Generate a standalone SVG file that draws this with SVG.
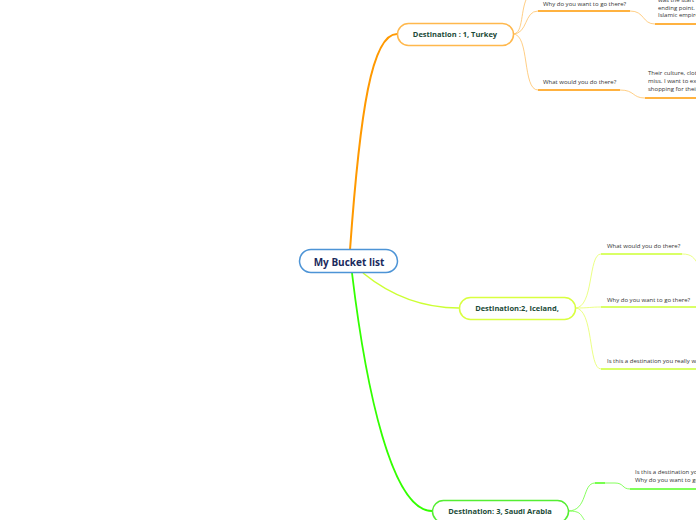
<svg xmlns="http://www.w3.org/2000/svg" width="696" height="520" viewBox="0 0 696 520">
<style>
.node{fill:#fff;stroke-width:1.5}
.nt{font-family:"Open Sans","Noto Sans",sans-serif;font-weight:bold;fill:#1b4a38;text-anchor:middle}
.st{font-family:"Open Sans","Noto Sans",sans-serif;font-size:6px;fill:#333}
.c{fill:none}
</style>
<rect width="696" height="520" fill="#fff"/>
<g id="connectors">
<path class="c" d="M350,250 C360,110 372,34 397,34" stroke="#ff9900" stroke-width="2"/>
<path class="c" d="M363,273 C390,295 420,308 459,308" stroke="#ccff33" stroke-width="1.6"/>
<path class="c" d="M352,273 C366,390 392,511 432,511" stroke="#33ff00" stroke-width="1.8"/>
<!-- Turkey subs -->
<g stroke="#ffc266" stroke-width="0.8">
<path class="c" d="M513,34 C524,34 520,8 528,-4"/>
<path class="c" d="M513,34 C528,34 524,11 538,11"/>
<path class="c" d="M513,34 C530,34 522,90 538,90"/>
<path class="c" d="M630,11 C645,11 642,24 655,24"/>
<path class="c" d="M620,90 C635,90 632,98 645,98"/>
</g>
<g stroke="#ff9900" stroke-width="1.6">
<path d="M538,11 H630"/>
<path d="M655,24 H696"/>
<path d="M538,90 H620"/>
<path d="M645,98 H696"/>
</g>
<!-- Iceland subs -->
<g stroke="#e6ff66" stroke-width="0.8">
<path class="c" d="M575,308 C594,308 588,254 601,254"/>
<path class="c" d="M575,308 C590,308 590,307 601,307"/>
<path class="c" d="M575,308 C594,308 588,369 601,369"/>
<path class="c" d="M682,254 C692,254 694,258 698,264"/>
</g>
<g stroke="#ccff33" stroke-width="1.6">
<path d="M601,254 H682"/>
<path d="M601,307 H696"/>
<path d="M601,369 H696"/>
</g>
<!-- Saudi subs -->
<g stroke="#66ff33" stroke-width="0.8">
<path class="c" d="M568,511 C588,511 582,483 595,483"/>
<path class="c" d="M568,511 C582,511 580,515 586,522"/>
<path class="c" d="M605,483 H615 C624,483 622,489 630,489"/>
</g>
<g stroke="#55ff22" stroke-width="1.6">
<path d="M595,483 H605"/>
<path d="M630,489 H696"/>
</g>
</g>
<g id="root">
<rect class="node" x="299.5" y="249.5" width="98" height="23" rx="11.5" stroke="#4d94d6"/>
<text x="349" y="265.5" class="nt" font-size="10" fill="#1a2a5c" style="fill:#1a2a5c">My Bucket list</text>
</g>
<g id="turkey">
<rect class="node" x="397.5" y="23.5" width="116" height="22" rx="11" stroke="#ffb84d"/>
<text x="455" y="37" class="nt" font-size="7.5">Destination : 1, Turkey</text>
</g>
<g id="turkey-why">
<text x="543" y="6" class="st">Why do you want to go there?</text>
</g>
<g id="turkey-why-answer">
<text class="st" x="658"><tspan x="658" y="2">was the start</tspan><tspan x="658" y="9.5">ending point.</tspan><tspan x="658" y="17">Islamic empire</tspan></text>
</g>
<g id="turkey-what">
<text x="543" y="84" class="st">What would you do there?</text>
</g>
<g id="turkey-what-answer">
<text class="st"><tspan x="648" y="75">Their culture, clothes</tspan><tspan x="648" y="83">miss. I want to explore</tspan><tspan x="648" y="91">shopping for their</tspan></text>
</g>
<g id="iceland">
<rect class="node" x="459.5" y="297.5" width="116" height="22" rx="11" stroke="#d9ff40"/>
<text x="517" y="311" class="nt" font-size="7.5">Destination:2, Iceland,</text>
</g>
<g id="iceland-what"><text x="607" y="248" class="st">What would you do there?</text></g>
<g id="iceland-why"><text x="607" y="302" class="st">Why do you want to go there?</text></g>
<g id="iceland-is"><text x="607" y="363" class="st">Is this a destination you really want</text></g>
<g id="saudi">
<rect class="node" x="432.5" y="500.5" width="136" height="22" rx="11" stroke="#55ee33"/>
<text x="500" y="514" class="nt" font-size="7.5">Destination: 3, Saudi Arabia</text>
</g>
<g id="saudi-sub">
<text class="st"><tspan x="635" y="474">Is this a destination you</tspan><tspan x="635" y="482">Why do you want to go</tspan></text>
</g>
</svg>
